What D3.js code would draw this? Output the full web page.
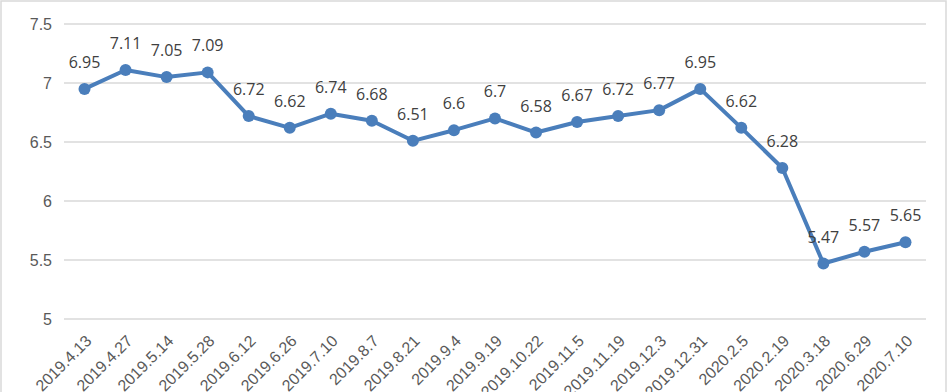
<!DOCTYPE html>
<html>
<head>
<meta charset="utf-8">
<script src="https://cdn.jsdelivr.net/npm/d3@7"></script>
<style>
  body { margin:0; background:#fff; }
  svg { display:block; font-family:"Open Sans", sans-serif; }
</style>
</head>
<body>
<div class="chart"></div>
<script>
var dates = ["2019.4.13","2019.4.27","2019.5.14","2019.5.28","2019.6.12","2019.6.26","2019.7.10",
  "2019.8.7","2019.8.21","2019.9.4","2019.9.19","2019.10.22","2019.11.5","2019.11.19","2019.12.3",
  "2019.12.31","2020.2.5","2020.2.19","2020.3.18","2020.6.29","2020.7.10"];
var values = [6.95,7.11,7.05,7.09,6.72,6.62,6.74,6.68,6.51,6.6,6.7,6.58,6.67,6.72,6.77,6.95,6.62,6.28,5.47,5.57,5.65];
var yTicks = [5,5.5,6,6.5,7,7.5];

var W = 950, H = 392;
var margin = {top:24, right:24, bottom:73, left:64}
  , width = W - margin.left - margin.right
  , height = H - margin.top - margin.bottom;

var svg = d3.select(".chart").append("svg")
  .attr("width", W).attr("height", H);

// frame
svg.append("rect")
  .attr("x",1).attr("y",1).attr("width",945).attr("height",H+10)
  .attr("fill","none").attr("stroke","#d9d9d9").attr("stroke-width",1.5);

var g = svg.append("g").attr("transform","translate("+margin.left+","+margin.top+")");

var xScale = d3.scaleBand().domain(dates).range([0,width]);
var yScale = d3.scaleLinear().domain([5,7.5]).range([height,0]);

// gridlines
g.selectAll(".grid").data(yTicks).enter().append("line")
  .attr("x1",0).attr("x2",width)
  .attr("y1",function(d){return yScale(d);}).attr("y2",function(d){return yScale(d);})
  .attr("stroke","#d9d9d9").attr("stroke-width",1.5);

var yAxis = g.append("g").call(d3.axisLeft(yScale).tickValues(yTicks).tickSize(0).tickPadding(12).tickFormat(function(d){return String(d);}));
yAxis.select(".domain").remove();
yAxis.selectAll("text").attr("fill","#595959").style("font-size","16px");

var xAxis = g.append("g").attr("transform","translate(0,"+height+")")
  .call(d3.axisBottom(xScale).tickSize(0));
xAxis.select(".domain").remove();
xAxis.selectAll("text")
  .attr("fill","#595959").style("font-size","16px")
  .attr("text-anchor","end").attr("dy",null).attr("y",0)
  .attr("transform","translate(8,23) rotate(-45)");

var cx = function(d,i){ return xScale(dates[i]) + xScale.bandwidth()/2; };

var line = d3.line().x(cx).y(function(d){return yScale(d);});

g.append("path").datum(values)
  .attr("fill","none").attr("stroke","#4a7ebb").attr("stroke-width",4)
  .attr("stroke-linejoin","round").attr("d",line);

g.selectAll(".dot").data(values).enter().append("circle")
  .attr("cx",cx).attr("cy",function(d){return yScale(d);})
  .attr("r",6).attr("fill","#4a7ebb");

g.selectAll(".lbl").data(values).enter().append("text")
  .attr("x",cx).attr("y",function(d){return yScale(d)-21;})
  .attr("text-anchor","middle").attr("fill","#404040").style("font-size","16px")
  .text(function(d){return String(d);});
</script>
</body>
</html>
